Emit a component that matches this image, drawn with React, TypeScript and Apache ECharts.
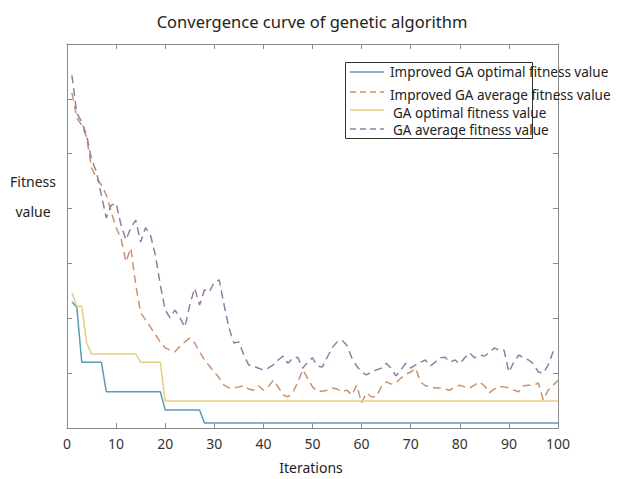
import React, { useEffect, useRef } from "react";
import * as echarts from "echarts";

const titleText = "Convergence curve of genetic algorithm";
const xAxisName = "Iterations";
const yAxisNameLines = ["Fitness", "value"];
const seriesNames = [
  "Improved GA optimal fitness value",
  "Improved GA average fitness value",
  "GA optimal fitness value",
  "GA average fitness value",
];
const xTicks = [0, 10, 20, 30, 40, 50, 60, 70, 80, 90, 100];

// Best-so-far curves as [iteration, value] breakpoints
const improvedOptimal: [number, number][] = [
  [1, 23.0], [2, 22.0], [3, 12.0], [7, 12.0], [8, 6.6], [19, 6.6],
  [20, 3.3], [27, 3.3], [28, 0.9], [100, 0.9],
];
const gaOptimal: [number, number][] = [
  [1, 24.6], [2, 22.2], [3, 22.2], [4, 15.5], [5, 13.5], [14, 13.5],
  [15, 12.0], [19, 12.0], [20, 4.9], [100, 4.9],
];

// Average fitness per iteration (1..100)
const improvedAverage = [
  61.1, 56.5, 55.2, 53.0, 47.4, 45.6, 44.3, 42.5, 39.4, 36.5,
  34.6, 30.3, 32.8, 26.1, 21.0, 19.7, 18.4, 17.0, 15.7, 14.6,
  14.2, 13.9, 14.9, 15.7, 16.4, 15.5, 13.9, 12.4, 11.3, 10.2,
  9.1, 7.8, 7.3, 7.3, 7.5, 7.7, 7.1, 6.9, 7.7, 6.9,
  7.5, 8.7, 7.5, 6.0, 5.7, 6.4, 8.4, 10.6, 9.1, 7.5,
  6.7, 6.7, 6.9, 7.3, 7.1, 6.6, 6.9, 6.0, 7.8, 4.6,
  6.4, 5.7, 5.7, 7.5, 8.4, 8.0, 8.2, 9.1, 9.8, 10.2,
  10.9, 8.4, 7.7, 7.5, 7.3, 7.3, 7.1, 6.9, 7.5, 7.8,
  7.5, 7.3, 7.8, 8.4, 7.7, 6.4, 7.1, 7.5, 7.5, 7.3,
  6.9, 6.6, 7.7, 7.8, 7.8, 8.2, 5.1, 6.9, 7.8, 8.7,
];
const gaAverage = [
  64.3, 57.4, 55.8, 53.4, 48.9, 46.7, 42.5, 38.3, 40.6, 41.0,
  37.0, 34.3, 36.5, 37.9, 33.9, 36.5, 35.2, 31.5, 26.1, 21.5,
  20.1, 21.5, 20.1, 18.4, 22.4, 25.5, 22.4, 25.2, 24.8, 26.6,
  27.0, 22.4, 18.2, 15.5, 15.7, 13.3, 11.5, 11.3, 10.9, 10.6,
  10.9, 11.5, 12.4, 13.1, 11.8, 12.8, 12.9, 10.9, 12.0, 12.8,
  11.3, 11.1, 12.9, 14.6, 15.7, 16.0, 15.1, 12.8, 11.3, 10.2,
  9.7, 10.2, 10.6, 10.9, 11.8, 10.9, 9.5, 10.6, 11.8, 10.9,
  11.5, 12.0, 12.4, 11.3, 12.0, 12.8, 12.9, 12.0, 12.4, 11.7,
  12.8, 13.7, 12.8, 13.3, 13.1, 13.7, 14.6, 14.2, 14.2, 10.2,
  12.0, 13.3, 12.8, 12.4, 11.7, 10.2, 10.0, 11.5, 13.9, 14.2,
];

const colors = ["#5a9bb6", "#c99270", "#e2cf82", "#927ca6"];
const FONT = "'Noto Sans', 'DejaVu Sans', sans-serif";

export default function App() {
  const ref = useRef<HTMLDivElement>(null);

  useEffect(() => {
    if (!ref.current) return;
    const chart = echarts.init(ref.current, undefined, { renderer: "svg" });
    const axisColor = "#8a8a8a";
    const dash = [8, 5];

    const baseX = {
      type: "value" as const,
      min: 0,
      max: 100,
      interval: 10,
      splitLine: { show: false },
      axisLine: { show: true, onZero: false, lineStyle: { color: axisColor, width: 1 } },
      axisTick: { show: true, inside: true, length: 5, lineStyle: { color: axisColor } },
    };
    const baseY = {
      type: "value" as const,
      min: 0,
      max: 70,
      interval: 10,
      splitLine: { show: false },
      axisLine: { show: true, onZero: false, lineStyle: { color: axisColor, width: 1 } },
      axisTick: { show: true, inside: true, length: 5, lineStyle: { color: axisColor } },
      axisLabel: { show: false },
    };

    const legendRows = [
      { y: 72, ty: 72, tx: 390, dashed: false },
      { y: 92, ty: 95, tx: 390, dashed: true },
      { y: 110, ty: 113, tx: 393, dashed: false },
      { y: 129, ty: 130, tx: 393, dashed: true },
    ];

    const graphics: any[] = [
      {
        type: "rect",
        shape: { x: 345.5, y: 62.5, width: 187, height: 76 },
        style: { fill: "#ffffff", stroke: "#333333", lineWidth: 1 },
        z: 10,
      },
    ];
    legendRows.forEach((r, i) => {
      graphics.push({
        type: "line",
        shape: { x1: 350, y1: r.y, x2: 384, y2: r.y },
        style: { stroke: colors[i], lineWidth: 1.5, lineDash: r.dashed ? [6, 4] : null },
        z: 11,
      });
      graphics.push({
        type: "text",
        x: r.tx,
        y: r.ty,
        style: {
          text: seriesNames[i],
          fontSize: 13.5,
          fontFamily: FONT,
          fill: "#222222",
          verticalAlign: "middle",
        },
        z: 12,
      });
    });
    const labelStyle = { fontSize: 14, fontFamily: FONT, fill: "#222", align: "center", verticalAlign: "middle" };
    graphics.push({ type: "text", x: 33, y: 181, style: { ...labelStyle, text: yAxisNameLines[0] } });
    graphics.push({ type: "text", x: 33, y: 211, style: { ...labelStyle, text: yAxisNameLines[1] } });
    graphics.push({ type: "text", x: 311, y: 467, style: { ...labelStyle, text: xAxisName } });

    chart.setOption({
      animation: false,
      backgroundColor: "#ffffff",
      title: {
        text: titleText,
        left: "center",
        top: 8,
        textStyle: { fontSize: 16.5, fontWeight: "normal", color: "#222", fontFamily: FONT },
      },
      grid: { left: 67, right: 66, top: 44, bottom: 51, containLabel: false },
      xAxis: [
        {
          ...baseX,
          position: "bottom",
          axisLabel: {
            show: true,
            fontSize: 14,
            color: "#333",
            margin: 8,
            fontFamily: FONT,
            formatter: (v: number) => (xTicks.includes(v) ? String(v) : ""),
          },
        },
        { ...baseX, position: "top", axisLabel: { show: false } },
      ],
      yAxis: [
        { ...baseY, position: "left" },
        { ...baseY, position: "right" },
      ],
      graphic: graphics,
      series: [
        {
          name: seriesNames[0],
          type: "line",
          data: improvedOptimal,
          showSymbol: false,
          lineStyle: { color: colors[0], width: 1.5 },
          itemStyle: { color: colors[0] },
        },
        {
          name: seriesNames[1],
          type: "line",
          data: improvedAverage.map((v, i) => [i + 1, v]),
          showSymbol: false,
          lineStyle: { color: colors[1], width: 1.5, type: dash },
          itemStyle: { color: colors[1] },
        },
        {
          name: seriesNames[2],
          type: "line",
          data: gaOptimal,
          showSymbol: false,
          lineStyle: { color: colors[2], width: 1.5 },
          itemStyle: { color: colors[2] },
        },
        {
          name: seriesNames[3],
          type: "line",
          data: gaAverage.map((v, i) => [i + 1, v]),
          showSymbol: false,
          lineStyle: { color: colors[3], width: 1.5, type: dash },
          itemStyle: { color: colors[3] },
        },
      ],
    });
    return () => chart.dispose();
  }, []);

  return (
    <div
      ref={ref}
      style={{ position: "absolute", left: 0, top: 0, width: 624, height: 479, background: "#fff" }}
    />
  );
}
